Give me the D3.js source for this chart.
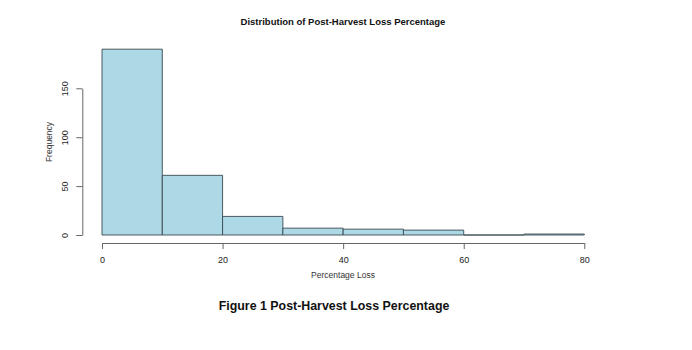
<!DOCTYPE html>
<html><head><meta charset="utf-8">
<script src="https://cdn.jsdelivr.net/npm/d3@7"></script>
<style>body{margin:0;background:#fff}svg{display:block}text{font-family:"Liberation Sans",Arial,sans-serif}</style>
</head><body><svg id="c" width="692" height="350"></svg>
<script>
const binStarts = [0,10,20,30,40,50,60,70];
const binWidth = 10;
const counts = [190,61,19,7,6,5,0,1];
const xTicks = [0,20,40,60,80];
const yTicks = [0,50,100,150];

const svg = d3.select("#c");
const x = d3.scaleLinear().domain([0,80]).range([102,584.3]);
const y = d3.scaleLinear().domain([0,150]).range([235,88.3]);

svg.append("g").selectAll("path").data(binStarts).join("path")
  .attr("d", (d,i)=>{
    const p = d3.path();
    p.moveTo(x(d), y(0));
    p.lineTo(x(d), y(counts[i]));
    p.lineTo(x(d+binWidth), y(counts[i]));
    p.lineTo(x(d+binWidth), y(0));
    p.closePath();
    return p.toString();
  })
  .attr("fill","#ADD8E6").attr("stroke","#3a4a50").attr("stroke-width",0.9);

const xa = svg.append("g").attr("transform","translate(0,243)")
  .call(d3.axisBottom(x).tickValues(xTicks).tickSize(6).tickPadding(8).tickSizeOuter(0));
xa.select(".domain").attr("stroke","#666");
xa.selectAll("line").attr("stroke","#666");
xa.selectAll("text").attr("font-size",9).attr("fill","#222").attr("font-family","Liberation Sans, Arial, sans-serif");

const ya = svg.append("g").attr("transform","translate(82.3,0)")
  .call(d3.axisLeft(y).tickValues(yTicks).tickSize(6).tickSizeOuter(0));
ya.select(".domain").attr("stroke","#666");
ya.selectAll("line").attr("stroke","#666");
ya.selectAll("text").attr("font-size",9).attr("fill","#222").attr("font-family","Liberation Sans, Arial, sans-serif")
  .attr("text-anchor","middle").attr("x",null).attr("dy",null)
  .attr("transform","translate(-14,0) rotate(-90)");

svg.append("text").attr("x",343).attr("y",25).attr("text-anchor","middle")
  .attr("font-size",9.5).attr("font-weight","bold").attr("fill","#111")
  .text("Distribution of Post-Harvest Loss Percentage");
svg.append("text").attr("x",343).attr("y",278).attr("text-anchor","middle")
  .attr("font-size",8.5).attr("fill","#333").text("Percentage Loss");
svg.append("text").attr("transform","translate(52,142) rotate(-90)").attr("text-anchor","middle")
  .attr("font-size",8.5).attr("fill","#333").text("Frequency");
svg.append("text").attr("x",334).attr("y",310).attr("text-anchor","middle")
  .attr("font-size",12.4).attr("font-weight","bold").attr("fill","#111")
  .text("Figure 1 Post-Harvest Loss Percentage");
</script></body></html>
